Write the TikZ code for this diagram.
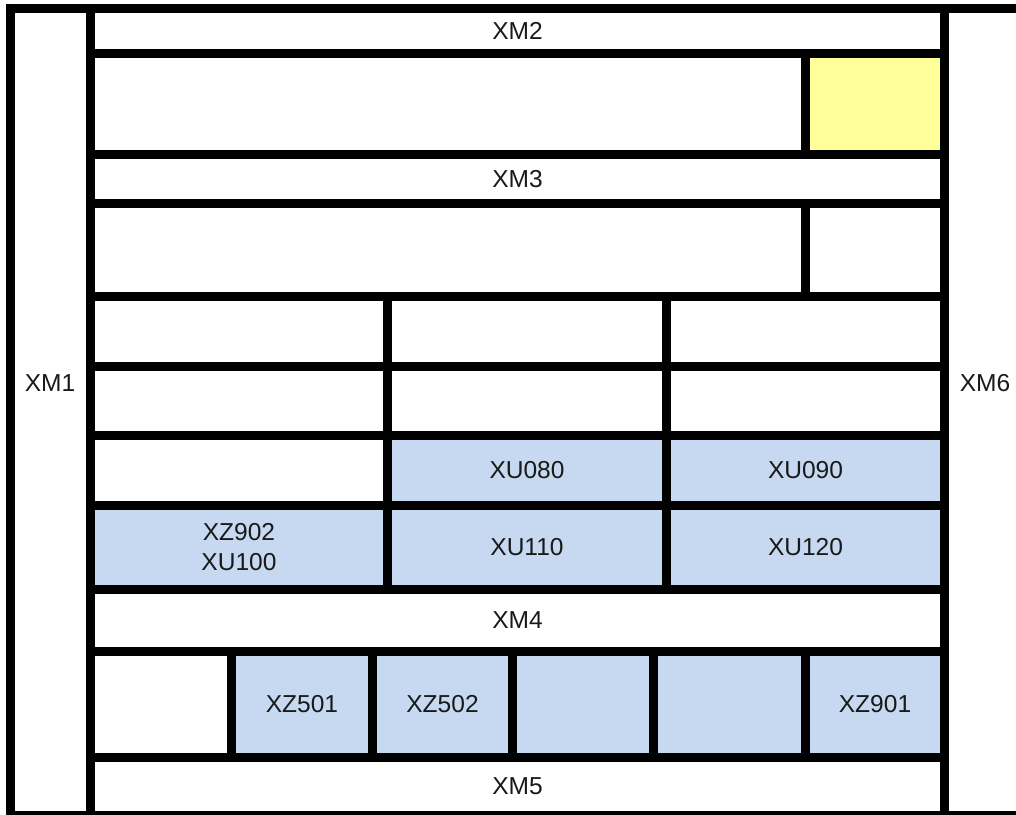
\documentclass[tikz,border=0pt]{standalone}
\usepackage{fontspec}
\setmainfont{Liberation Sans}
\usepackage{tikz}
\usetikzlibrary{fit}
\usepackage{xcolor}
\definecolor{rackblue}{HTML}{C6D9F0}
\definecolor{rackyellow}{HTML}{FFFF99}

\tikzset{
  slot/.style={rectangle,draw=black,line width=6.75pt,inner sep=0pt},
  used/.style={slot,fill=rackblue},
  spare/.style={slot,fill=rackyellow},
  tag/.style={inner sep=0pt,align=center,text=black!90,
    font=\fontsize{18.4}{22.5}\selectfont}
}

\begin{document}
\begin{tikzpicture}[x=0.75pt,y=-0.75pt]
\useasboundingbox (0,0) rectangle (1016,814);
\clip (0,0) rectangle (1016,814);
% cadres lateraux
\node[slot,fit={(10.5,8.5) (90.5,815.5)}] (xm1) {};
\node[slot,fit={(944.5,8.5) (1025.5,815.5)}] (xm6) {};
\node[tag] (xm1lbl) at (50,383) {XM1};
\node[tag] (xm6lbl) at (985,383) {XM6};
% rangees hautes
\node[slot,fit={(90.5,8.5) (944.5,53.5)},label={[tag]center:XM2}] (xm2) {};
\node[slot,fit={(90.5,53.5) (805.5,154.5)}] (r1a) {};
\node[spare,fit={(805.5,53.5) (944.5,154.5)}] (r1b) {};
\node[slot,fit={(90.5,154.5) (944.5,203.5)},label={[tag]center:XM3}] (xm3) {};
\node[slot,fit={(90.5,203.5) (805.5,296.5)}] (r2a) {};
\node[slot,fit={(805.5,203.5) (944.5,296.5)}] (r2b) {};
% trois colonnes
\foreach \ya/\yb/\n in {296.5/366.5/3,366.5/435.5/4}{
  \node[slot,fit={(90.5,\ya) (387.5,\yb)}] (r\n a) {};
  \node[slot,fit={(387.5,\ya) (666.5,\yb)}] (r\n b) {};
  \node[slot,fit={(666.5,\ya) (944.5,\yb)}] (r\n c) {};
}
\node[slot,fit={(90.5,435.5) (387.5,505.5)}] (r5a) {};
\node[used,fit={(387.5,435.5) (666.5,505.5)},label={[tag]center:XU080}] (xu080) {};
\node[used,fit={(666.5,435.5) (944.5,505.5)},label={[tag]center:XU090}] (xu090) {};
\node[used,fit={(90.5,505.5) (387.5,589.5)},label={[tag]center:{XZ902\\XU100}}] (xu100) {};
\node[used,fit={(387.5,505.5) (666.5,589.5)},label={[tag]center:XU110}] (xu110) {};
\node[used,fit={(666.5,505.5) (944.5,589.5)},label={[tag]center:XU120}] (xu120) {};
\node[slot,fit={(90.5,589.5) (944.5,651.5)},label={[tag]center:XM4}] (xm4) {};
% rangee basse
\node[slot,fit={(90.5,651.5) (231.5,757.5)}] (r7a) {};
\node[used,fit={(231.5,651.5) (372.5,757.5)},label={[tag]center:XZ501}] (xz501) {};
\node[used,fit={(372.5,651.5) (512.5,757.5)},label={[tag]center:XZ502}] (xz502) {};
\node[used,fit={(512.5,651.5) (653.5,757.5)}] (r7d) {};
\node[used,fit={(653.5,651.5) (805.5,757.5)}] (r7e) {};
\node[used,fit={(805.5,651.5) (944.5,757.5)},label={[tag]center:XZ901}] (xz901) {};
\node[slot,fit={(90.5,757.5) (944.5,815.5)},label={[tag]center:XM5}] (xm5) {};
\end{tikzpicture}
\end{document}
